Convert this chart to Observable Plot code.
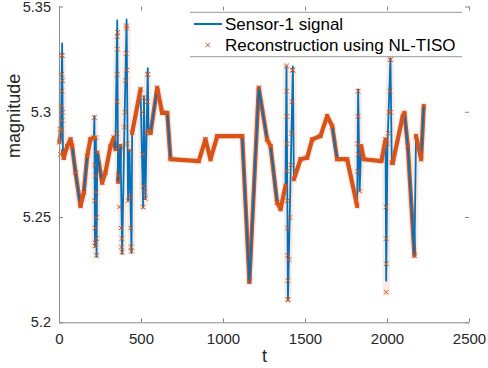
<!DOCTYPE html>
<html><head><meta charset="utf-8">
<script src="https://cdn.jsdelivr.net/npm/d3@7"></script>
<script src="https://cdn.jsdelivr.net/npm/@observablehq/plot@0.6"></script>
<style>
body{margin:0;background:#fff}
#chart{width:488px;height:368px}
</style>
</head><body><div id="chart"></div>
<script>
// ---- data ----
const sigT = [0,9,16,21,26,47,67,77,98,128,148,169,189,209,213,216,222,226,230,260,280,311,331,341,352,357,372,382,396,409,418,427,439,443,494,510,515,524,538,543,555,596,626,657,677,849,890,921,962,1114,1158,1215,1266,1287,1327,1348,1378,1384,1393,1423,1429,1470,1510,1541,1591,1632,1663,1693,1754,1815,1821,1830,1840,1855,1963,1988,1992,2000,2018,2026,2032,2093,2103,2124,2164,2174,2205,2221];
const sigV = [5.2858,5.2910,5.3327,5.2815,5.2784,5.2839,5.2871,5.2839,5.2713,5.2555,5.2618,5.2792,5.2873,5.2879,5.2982,5.2361,5.2880,5.2314,5.2808,5.2666,5.2713,5.2839,5.2879,5.2825,5.3436,5.2666,5.2840,5.2328,5.2930,5.3441,5.2580,5.2820,5.2333,5.2902,5.3109,5.2547,5.3076,5.2588,5.3209,5.2910,5.2902,5.3116,5.2997,5.2997,5.2777,5.2768,5.2871,5.2777,5.2887,5.2887,5.2191,5.3116,5.2871,5.2839,5.2571,5.2540,5.2650,5.3218,5.2106,5.3218,5.2682,5.2777,5.2784,5.2871,5.2887,5.2982,5.2934,5.2777,5.2777,5.2555,5.3109,5.2626,5.2839,5.2777,5.2768,5.2871,5.2200,5.2850,5.3256,5.2760,5.2760,5.2982,5.2997,5.2839,5.2319,5.2887,5.2777,5.3029];

const recT = sigT;
const recV = [5.2858,5.2910,5.3270,5.2815,5.2784,5.2839,5.2871,5.2839,5.2713,5.2555,5.2618,5.2792,5.2873,5.2879,5.2975,5.2365,5.2880,5.2320,5.2808,5.2666,5.2713,5.2839,5.2879,5.2825,5.3360,5.2670,5.2840,5.2335,5.2930,5.3410,5.2580,5.2820,5.2340,5.2902,5.3109,5.2550,5.3070,5.2590,5.3180,5.2910,5.2902,5.3116,5.2997,5.2997,5.2777,5.2768,5.2871,5.2777,5.2887,5.2887,5.2195,5.3116,5.2871,5.2839,5.2571,5.2540,5.2650,5.3220,5.2110,5.3200,5.2682,5.2777,5.2784,5.2871,5.2887,5.2982,5.2934,5.2777,5.2777,5.2555,5.3100,5.2626,5.2839,5.2777,5.2768,5.2871,5.2145,5.2850,5.3250,5.2760,5.2760,5.2982,5.2997,5.2839,5.2319,5.2887,5.2777,5.3029];

// reconstruction samples scattered along the fast spikes
const spikeT = [3,6,11,12,13,14,15,17,18,19,214,215,216,217,221,224,225,225,350,351,352,353,355,360,365,375,378,380,400,404,407,409,411,413,430,434,437,505,508,512,520,530,535,537,1385,1386,1387,1388,1389,1390,1391,1392,1393,1400,1405,1410,1415,1418,1421,1818,1819,1820,1823,1990,1991,1992,2005,2010,2014,2017,2019];
const spikeV = [5.2920,5.2800,5.2920,5.3030,5.3180,5.3270,5.3100,5.2960,5.3150,5.3000,5.2750,5.2580,5.2450,5.2380,5.2700,5.2620,5.2500,5.2400,5.2900,5.3050,5.3180,5.3300,5.3380,5.2700,5.2550,5.2450,5.2360,5.2400,5.3000,5.3150,5.3280,5.3400,5.3200,5.2850,5.2600,5.2450,5.2360,5.3000,5.2800,5.2650,5.2620,5.2900,5.3050,5.3180,5.3100,5.2980,5.2850,5.2720,5.2580,5.2450,5.2320,5.2200,5.2110,5.2300,5.2500,5.2750,5.2900,5.3050,5.3200,5.2720,5.2850,5.2980,5.2800,5.2550,5.2400,5.2280,5.2900,5.3000,5.3100,5.3250,5.3000];

const xTicks = [0, 500, 1000, 1500, 2000, 2500];
const yTicks = [5.2, 5.25, 5.3, 5.35];
const xDomain = [0, 2500];
const yDomain = [5.2, 5.35];
const legendLabels = ["Sensor-1 signal", "Reconstruction using NL-TISO"];
const xLabel = "t";
const yLabel = "magnitude";

// ---- layout / style ----
const W = 488, H = 368;
const mL = 59, mR = 19, mT = 6.5, mB = 45.7;
const frameW = W - mL - mR, frameH = H - mT - mB;
const BLUE = "#0072BD", ORANGE = "#D95319", AXIS = "#8c8c8c", TXT = "#262626";
const FONT = "'Liberation Sans', Arial, Helvetica, sans-serif";

const signal = sigT.map((t, i) => ({t, v: sigV[i]}));
const recon = recT.map((t, i) => ({t, v: recV[i]}));
const spikes = spikeT.map((t, i) => ({t, v: spikeV[i]}));

// classify reconstruction segments by on-screen steepness (marker density)
const kx = frameW / (xDomain[1] - xDomain[0]);
const ky = frameH / (yDomain[1] - yDomain[0]);
const segs = [];
for (let i = 1; i < recon.length; i++) {
  const a = recon[i - 1], b = recon[i];
  const dx = Math.abs(b.t - a.t) * kx, dy = Math.abs(b.v - a.v) * ky;
  const s = dy / Math.max(dx, 0.01);
  segs.push({x1: a.t, y1: a.v, x2: b.t, y2: b.v, kind: s > 25 ? "spike" : s > 6 ? "steep" : "flat"});
}
const linkOpts = {x1: "x1", y1: "y1", x2: "x2", y2: "y2", stroke: ORANGE, strokeWidth: 4.2, strokeLinecap: "round"};

const plot = Plot.plot({
  width: W, height: H,
  marginLeft: mL, marginRight: mR, marginTop: mT, marginBottom: mB,
  style: {fontFamily: FONT, fontSize: "15px", color: TXT, background: "#fff"},
  x: {domain: xDomain, label: null},
  y: {domain: yDomain, label: null},
  marks: [
    // inward ticks
    Plot.ruleX(xTicks, {x: d => d, insetTop: frameH - 4, stroke: "#666", strokeWidth: 0.8}),
    Plot.ruleX(xTicks, {x: d => d, insetBottom: frameH - 4, stroke: "#666", strokeWidth: 0.8}),
    Plot.ruleY(yTicks, {y: d => d, insetRight: frameW - 4, stroke: "#666", strokeWidth: 0.8}),
    Plot.ruleY(yTicks, {y: d => d, insetLeft: frameW - 4, stroke: "#666", strokeWidth: 0.8}),
    // haze of overlapping markers
    Plot.line(recon, {x: "t", y: "v", stroke: ORANGE, strokeOpacity: 0.12, strokeWidth: 7, strokeLinejoin: "round"}),
    Plot.link(segs.filter(s => s.kind === "steep"), linkOpts),
    Plot.line(signal, {x: "t", y: "v", stroke: BLUE, strokeWidth: 1.8, strokeLinejoin: "round"}),
    Plot.link(segs.filter(s => s.kind === "flat"), linkOpts),
    Plot.dot(recon.concat(spikes), {x: "t", y: "v", symbol: "times", r: 2.2, stroke: ORANGE, strokeWidth: 1}),
    // axes lines
    Plot.ruleX([xDomain[0]], {stroke: AXIS, strokeWidth: 1}),
    Plot.ruleY([yDomain[0]], {stroke: AXIS, strokeWidth: 1}),
    Plot.axisX(xTicks, {tickSize: 0, tickPadding: 11, fontSize: 15, label: null, tickFormat: d => String(d)}),
    Plot.axisY(yTicks, {tickSize: 0, tickPadding: 8.5, fontSize: 14.5, label: null, tickFormat: d => String(+d.toFixed(2))}),
    Plot.text([xLabel], {text: d => d, frameAnchor: "bottom", dy: 39, fontSize: 18, fill: TXT}),
    Plot.text([yLabel], {text: d => d, frameAnchor: "left", rotate: -90, dx: -45, dy: -7, fontSize: 18, fill: TXT})
  ]
});

// legend (drawn inside the plot's svg)
const svg = d3.select(plot);
const lg = svg.append("g").attr("font-family", FONT).attr("font-size", 17).attr("fill", "#000").attr("text-anchor", "start");
lg.append("rect").attr("x", 190).attr("y", 12.3).attr("width", 272).attr("height", 44.4).attr("fill", "#fff");
lg.append("line").attr("x1", 190).attr("x2", 462).attr("y1", 12.3).attr("y2", 12.3).attr("stroke", "#999");
lg.append("line").attr("x1", 190).attr("x2", 462).attr("y1", 56.7).attr("y2", 56.7).attr("stroke", "#999");
lg.append("line").attr("x1", 194).attr("x2", 222).attr("y1", 24).attr("y2", 24).attr("stroke", BLUE).attr("stroke-width", 2);
lg.append("path").attr("d", "M205.5,42.8L209.9,47.2M205.5,47.2L209.9,42.8").attr("stroke", ORANGE).attr("stroke-width", 1);
lg.append("text").attr("x", 225).attr("y", 30).attr("text-anchor", "start").text(legendLabels[0]);
lg.append("text").attr("x", 225).attr("y", 51).attr("text-anchor", "start").text(legendLabels[1]);

document.getElementById("chart").appendChild(plot);
</script>
</body></html>
